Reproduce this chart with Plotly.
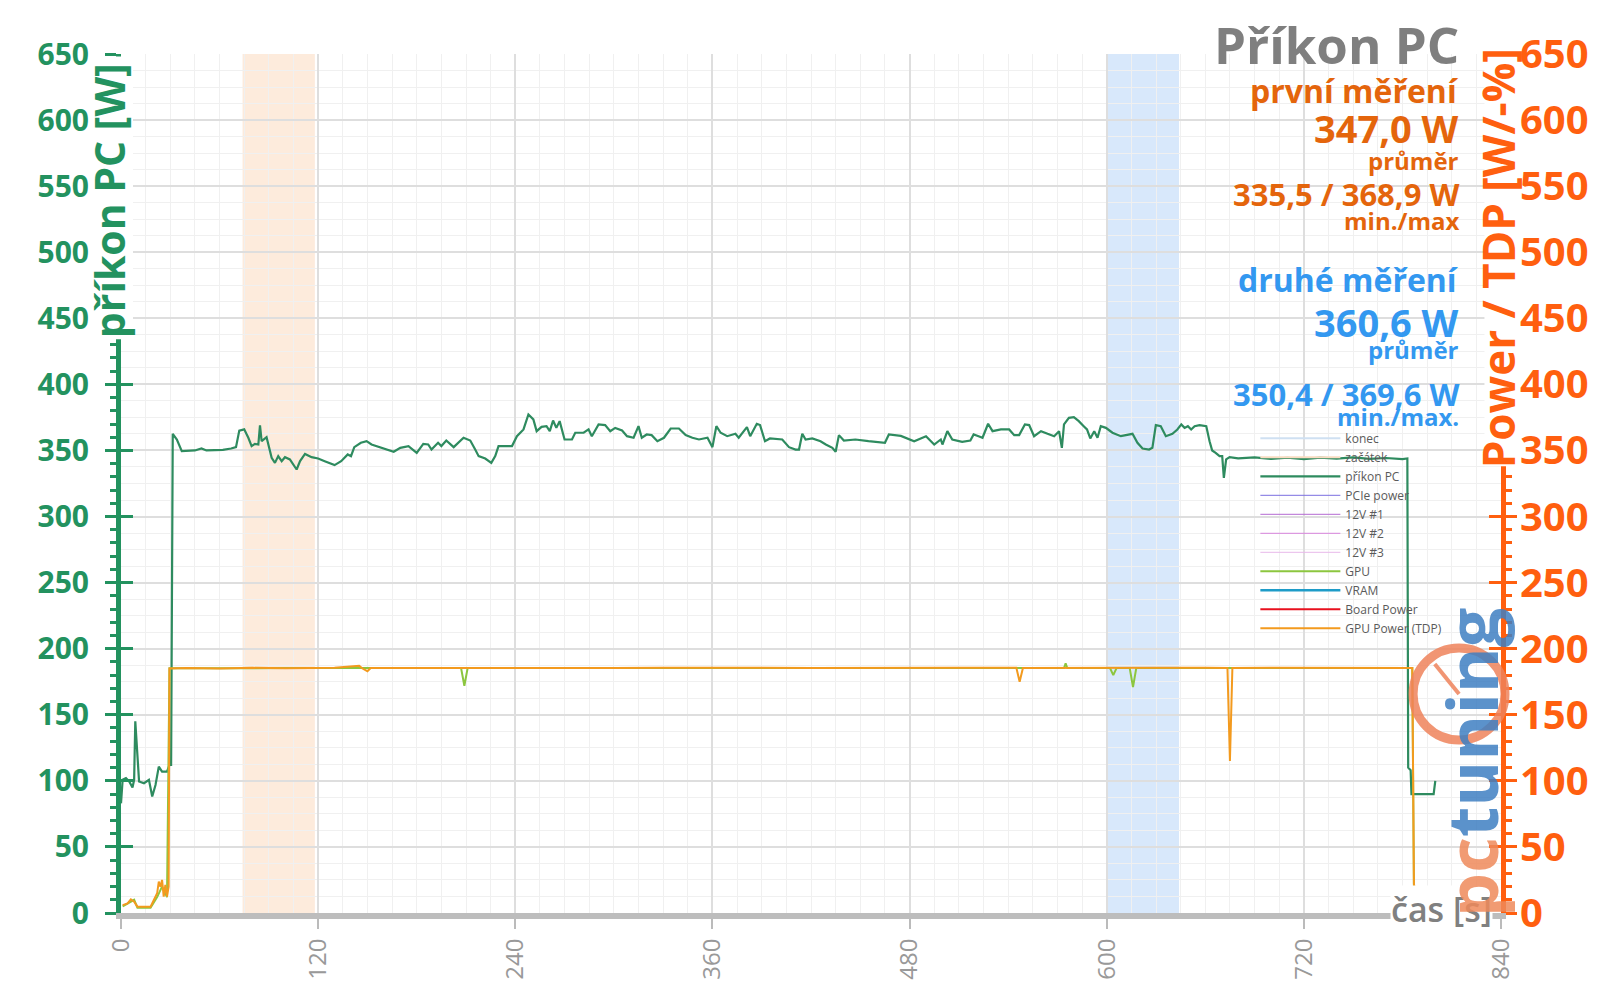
import plotly.graph_objects as go

# cas [s] a prikon PC [W]
pc_time = [0, 1, 3, 5, 7, 8, 8.7, 10, 11, 14, 17, 19, 21, 23, 25, 28, 29.5, 30.5, 31.5, 34, 37, 45, 49, 52, 57, 62,
           67, 70, 72, 75, 77.5, 79.5, 81.5, 83.6, 84.6, 85.6, 88.6, 91.7, 93.7, 95.7, 97.8, 99.8, 102.8, 106.9, 109,
           112, 116, 120, 124, 130, 134, 138, 140, 142, 146, 149.5, 152.5, 156, 162, 166, 170, 175, 180, 184, 187,
           189, 193, 195, 198, 202.5, 208.5, 212.6, 215.6, 217.7, 221.7, 225.4, 227.8, 229.8, 234, 238, 241, 245,
           248, 251, 253, 256, 259, 261, 263, 265, 267, 270, 274.5, 276.5, 281.6, 284.6, 286.6, 290.7, 294.7, 297.8,
           300.8, 305, 308, 312, 315, 317, 320, 323, 326.5, 330.5, 334.6, 339.6, 343.7, 347.8, 351.8, 357, 360,
           362.4, 365, 369, 374, 376, 381, 383, 387, 389, 392, 395, 402.5, 406.6, 410.6, 412.7, 414.7, 416.7, 420.8,
           425.8, 429, 433, 435, 437, 440, 447, 455, 465, 467.4, 474.7, 482.8, 490, 495, 499, 500, 503, 506, 512,
           517, 519, 522, 524.4, 527.8, 530.5, 535.6, 540.6, 543.7, 546.7, 550.2, 552.8, 555.8, 560, 564, 568, 571,
           572.7, 574, 577, 580, 583, 586, 588, 590, 592.4, 594.4, 596.4, 599.5, 603.5, 608.6, 612.6, 615.7, 618.7,
           621.8, 625.8, 627.8, 629.9, 632.9, 636, 640, 643, 645.4, 647.4, 649.4, 651.4, 653.5, 656.5, 660.6, 662.6,
           664.2, 666.3, 668.7, 670.3, 671.3, 672.7, 674.8, 680, 690, 700, 710, 720, 730, 740, 750, 760, 770, 780,
           783, 783.5, 785, 785.5, 790, 795, 799, 800]
pc_power = [83, 100.8, 102, 99.5, 95, 100.8, 145, 114.6, 99.5, 98.2, 100.8, 88.1, 96.9, 110.8, 107, 107, 112, 112,
            362.6, 358.3, 349.5, 350, 351.5, 350, 350, 350.5, 351.5, 352.5, 365, 366, 359.6, 353.3, 355, 354.5, 369,
            357, 360, 344.4, 340.6, 345.7, 341.9, 344.9, 343.2, 335.6, 342, 347.4, 344.9, 343.9, 341.9, 338.9, 341.9,
            347, 345.7, 352.5, 355.8, 357, 354.5, 353, 350.7, 349, 352, 353.3, 348.2, 355, 354.5, 350.7, 355.8, 353.3,
            357.5, 352.5, 359.6, 357.5, 350.7, 345.7, 343.9, 340.6, 345.7, 353.3, 353.3, 353.3, 360.8, 365.9, 377.2,
            373.5, 364.6, 367.9, 368.4, 364.6, 372.7, 367.1, 372.2, 358.3, 358.3, 363.4, 363.4, 365.9, 360.8, 369.7,
            369.2, 364.6, 367.1, 365.1, 360.8, 359.6, 368.4, 359.6, 362.1, 361.6, 357, 359.6, 366.6, 366.6, 361.6,
            359.6, 358.3, 359.6, 352.5, 368.4, 363.4, 360.8, 362.6, 359.6, 367.7, 360.8, 370.2, 369.2, 357, 359.1,
            358.3, 352.5, 350.7, 350.7, 362.6, 358.3, 359.1, 357, 354.5, 352, 349, 361.6, 357.5, 358.3, 357, 355.8,
            362.1, 361, 357, 360.8, 354.5, 358.3, 354.5, 364.6, 358.3, 356.5, 357.5, 362.1, 360.8, 359.6, 370.2,
            364.6, 365.9, 365.9, 361.6, 361.6, 369.7, 369.2, 360.8, 364.6, 362.6, 360.8, 364.6, 352, 369.7, 374.7,
            375.2, 372.2, 368.4, 365.9, 359.1, 364.6, 359.6, 368.4, 367.1, 363.4, 360.8, 362.1, 362.6, 355.8, 351.5,
            350.7, 352, 369.2, 368.4, 360.8, 362.6, 365.9, 369.7, 367.1, 368.4, 365.9, 368.4, 369.2, 368.4, 357, 350,
            348.2, 345.7, 345.7, 329.3, 343.2, 344.9, 344, 344.8, 343.6, 344.5, 343.5, 344.6, 343.8, 344.7, 343.6,
            344.3, 343.5, 344, 110, 108, 90, 90, 90, 90, 100]

# GPU Power (TDP)
tdp_time = [1, 4, 6, 8, 10, 18, 20, 22, 23, 24, 25, 26, 27, 28, 29, 29.5, 40, 60, 80, 100, 130, 145, 147, 150, 152,
            180, 210, 240, 270, 300, 330, 360, 390, 420, 450, 480, 510, 545, 547, 549, 575, 600, 630, 660, 673.5,
            675, 676.5, 700, 730, 760, 786, 787, 788, 789, 791]
tdp_power = [6, 7.3, 10.3, 8.6, 4.8, 4.8, 9.8, 14.9, 23.7, 19.9, 25, 12.4, 21.2, 12.4, 20, 185, 185.3, 185, 185.5,
             185.2, 185.6, 187, 185, 183, 185.4, 185.3, 185.6, 185.2, 185.5, 185.4, 185.6, 185.3, 185.5, 185.4,
             185.6, 185.4, 185.6, 185.5, 175, 185.4, 185.6, 185.4, 185.6, 185.5, 185.4, 115, 185.4, 185.6, 185.4,
             185.6, 185.4, 22, 15, 8, 3]

# GPU
gpu_time = [1, 5, 8, 10, 18, 22, 25, 28, 29.5, 100, 207, 209, 211, 400, 574, 575, 576, 602, 604, 606, 614, 616,
            618, 786, 787, 790, 792]
gpu_power = [5, 8, 10, 4, 4, 12, 20, 12, 185.2, 185.3, 185.3, 172, 185.3, 185.3, 185.3, 189, 185.3, 185.3, 180,
             185.3, 185.3, 171, 185.3, 185.3, 18, 12, 3]

# intervaly mereni (zacatek, konec)
first_window = [74, 118]
second_window = [600, 644]

x_ticks = [0, 120, 240, 360, 480, 600, 720, 840]

GREEN = "#23925F"
ORANGE_AX = "#FF5F0F"
ORANGE_TXT = "#E4650C"
BLUE_TXT = "#3398F0"

fig = go.Figure()

# legend only series
fig.add_trace(go.Scatter(x=[None], y=[None], name="konec", mode="lines", line=dict(color="#CFE0F2", width=2)))
fig.add_trace(go.Scatter(x=[None], y=[None], name="začátek", mode="lines", line=dict(color="#F9DCC2", width=2)))
fig.add_trace(go.Scatter(x=pc_time, y=pc_power, name="příkon PC", mode="lines",
                         line=dict(color="#2E8B5F", width=2.2)))
fig.add_trace(go.Scatter(x=[None], y=[None], name="PCIe power", mode="lines", line=dict(color="#7B6FE0", width=1)))
fig.add_trace(go.Scatter(x=[None], y=[None], name="12V #1", mode="lines", line=dict(color="#B46AD2", width=1)))
fig.add_trace(go.Scatter(x=[None], y=[None], name="12V #2", mode="lines", line=dict(color="#D884DC", width=1)))
fig.add_trace(go.Scatter(x=[None], y=[None], name="12V #3", mode="lines", line=dict(color="#E8B8EA", width=1)))
fig.add_trace(go.Scatter(x=gpu_time, y=gpu_power, name="GPU", mode="lines", yaxis="y2",
                         line=dict(color="#8CC63F", width=2)))
fig.add_trace(go.Scatter(x=[None], y=[None], name="VRAM", mode="lines", line=dict(color="#1E9CC8", width=2.5)))
fig.add_trace(go.Scatter(x=[None], y=[None], name="Board Power", mode="lines", line=dict(color="#E8101E", width=2)))
fig.add_trace(go.Scatter(x=tdp_time, y=tdp_power, name="GPU Power (TDP)", mode="lines", yaxis="y2",
                         line=dict(color="#F39A1E", width=2)))

# pasy mereni
fig.add_vrect(x0=first_window[0], x1=first_window[1], fillcolor="#FDEBDC", line_width=0, layer="below")
fig.add_vrect(x0=second_window[0], x1=second_window[1], fillcolor="#D8E8FB", line_width=0, layer="below")

# bile podklady pod popisky os (zakryji osu)
fig.add_shape(type="rect", xref="paper", yref="paper", x0=-0.0167, x1=0.0087, y0=0.668, y1=0.997,
              fillcolor="white", line_width=0, layer="above")
fig.add_shape(type="rect", xref="paper", yref="paper", x0=0.988, x1=1.012, y0=0.52, y1=1.003,
              fillcolor="white", line_width=0, layer="above")

# logo - budik
fig.add_shape(type="circle", xref="paper", yref="paper", x0=0.9363, x1=1.0029, y0=0.2014, y1=0.3086,
              line=dict(color="rgba(238,130,90,0.85)", width=9), layer="above")
fig.add_shape(type="line", xref="paper", yref="paper", x0=0.9696, y0=0.255, x1=0.952, y1=0.29,
              line=dict(color="rgba(238,130,90,0.85)", width=4), layer="above")

left_font = dict(family="Open Sans", size=30, weight=700)
right_font = dict(family="Open Sans", size=40, weight=700)

fig.update_layout(
    width=1600,
    height=1008,
    autosize=False,
    margin=dict(l=113, r=107, t=46, b=103, autoexpand=False),
    paper_bgcolor="white",
    plot_bgcolor="rgba(0,0,0,0)",
    font=dict(family="Open Sans"),
    xaxis=dict(range=[0, 840], tickvals=x_ticks, tickangle=-90, ticks="outside", ticklen=10, tickwidth=2,
               tickcolor="#BBBBBB", tickfont=dict(family="Open Sans", size=24, color="#999999"),
               showline=True, linecolor="#BDBDBD", linewidth=6, zeroline=False,
               showgrid=True, gridcolor="#DEDEDE", gridwidth=2,
               minor=dict(dtick=15, showgrid=True, gridcolor="#F0F0F0", gridwidth=1)),
    yaxis=dict(range=[0, 650], dtick=50, ticks="outside", ticklen=11, tickwidth=3, tickcolor=GREEN,
               tickfont=dict(color=GREEN, **left_font), ticklabelstandoff=10,
               showline=True, linecolor=GREEN, linewidth=5, zeroline=False,
               showgrid=True, gridcolor="#DEDEDE", gridwidth=2,
               minor=dict(dtick=12.5, showgrid=True, gridcolor="#F0F0F0", gridwidth=1)),
    yaxis2=dict(range=[0, 650], dtick=50, overlaying="y", side="right", ticks="outside", ticklen=11,
                tickwidth=3, tickcolor=ORANGE_AX, tickfont=dict(color=ORANGE_AX, **right_font),
                ticklabelstandoff=-5, showline=True, linecolor=ORANGE_AX, linewidth=5,
                zeroline=False, showgrid=False),
    # vnitrni cast krizku na osach
    yaxis3=dict(range=[0, 650], dtick=50, overlaying="y", side="left", ticks="inside", ticklen=12, tickwidth=3,
                tickcolor=GREEN, showticklabels=False, showgrid=False, zeroline=False,
                minor=dict(dtick=10, ticks="outside", ticklen=10, tickwidth=3, tickcolor=GREEN)),
    yaxis4=dict(range=[0, 650], dtick=50, overlaying="y", side="right", ticks="inside", ticklen=12, tickwidth=3,
                tickcolor=ORANGE_AX, showticklabels=False, showgrid=False, zeroline=False,
                minor=dict(dtick=10, ticks="outside", ticklen=10, tickwidth=3, tickcolor=ORANGE_AX)),
    legend=dict(x=0.822, y=0.5695, xanchor="left", yanchor="top", bgcolor="rgba(0,0,0,0)",
                font=dict(family="Open Sans", size=12, color="#5A5A5A"), itemwidth=80, tracegroupgap=0),
)

# dummy trace aby se zobrazily pomocne osy
fig.add_trace(go.Scatter(x=[None], y=[None], yaxis="y3", showlegend=False, hoverinfo="skip"))
fig.add_trace(go.Scatter(x=[None], y=[None], yaxis="y4", showlegend=False, hoverinfo="skip"))

# popisky os
fig.add_annotation(text="<b>příkon PC [W]</b>", textangle=-90, xref="paper", yref="paper", x=-0.0085, y=0.829,
                   xanchor="center", yanchor="middle", showarrow=False, font=dict(size=41, color=GREEN))
fig.add_annotation(text="<b>Power / TDP [W/-%]</b>", textangle=-90, xref="paper", yref="paper", x=0.9985,
                   y=0.762, xanchor="center", yanchor="middle", showarrow=False,
                   font=dict(size=44, color=ORANGE_AX))
fig.add_annotation(text="čas [s]", xref="paper", yref="paper", x=0.9945, y=0.005, xanchor="right",
                   yanchor="middle", showarrow=False, font=dict(size=34, color="#808080", weight=600),
                   bgcolor="white", borderpad=0)

# logo
fig.add_annotation(text='<span style="color:#EF8A5B">pc</span><span style="color:#3F7FC2">tuning</span>',
                   textangle=-90, xref="paper", yref="paper", x=0.978, y=0.175, xanchor="center",
                   yanchor="middle", showarrow=False, font=dict(size=70, weight=700), opacity=0.85)

# titulek a statistiky
info = [
    ("<b>Příkon PC</b>", 51, "#7F7F7F", 1.012),
    ("<b>první měření</b>", 32, ORANGE_TXT, 0.958),
    ("<b>347,0 W</b>", 38, ORANGE_TXT, 0.914),
    ("<b>průměr</b>", 24, ORANGE_TXT, 0.876),
    ("<b>335,5 / 368,9 W</b>", 31, ORANGE_TXT, 0.837),
    ("<b>min./max</b>", 24, ORANGE_TXT, 0.806),
    ("<b>druhé měření</b>", 32, BLUE_TXT, 0.737),
    ("<b>360,6 W</b>", 38, BLUE_TXT, 0.688),
    ("<b>průměr</b>", 24, BLUE_TXT, 0.656),
    ("<b>350,4 / 369,6 W</b>", 31, BLUE_TXT, 0.604),
    ("<b>min./max.</b>", 24, BLUE_TXT, 0.578),
]
for txt, size, col, ypos in info:
    fig.add_annotation(text=txt, xref="paper", yref="paper", x=0.971, y=ypos, xanchor="right", yanchor="middle",
                       showarrow=False, font=dict(size=size, color=col))

fig.write_html("out.html")
